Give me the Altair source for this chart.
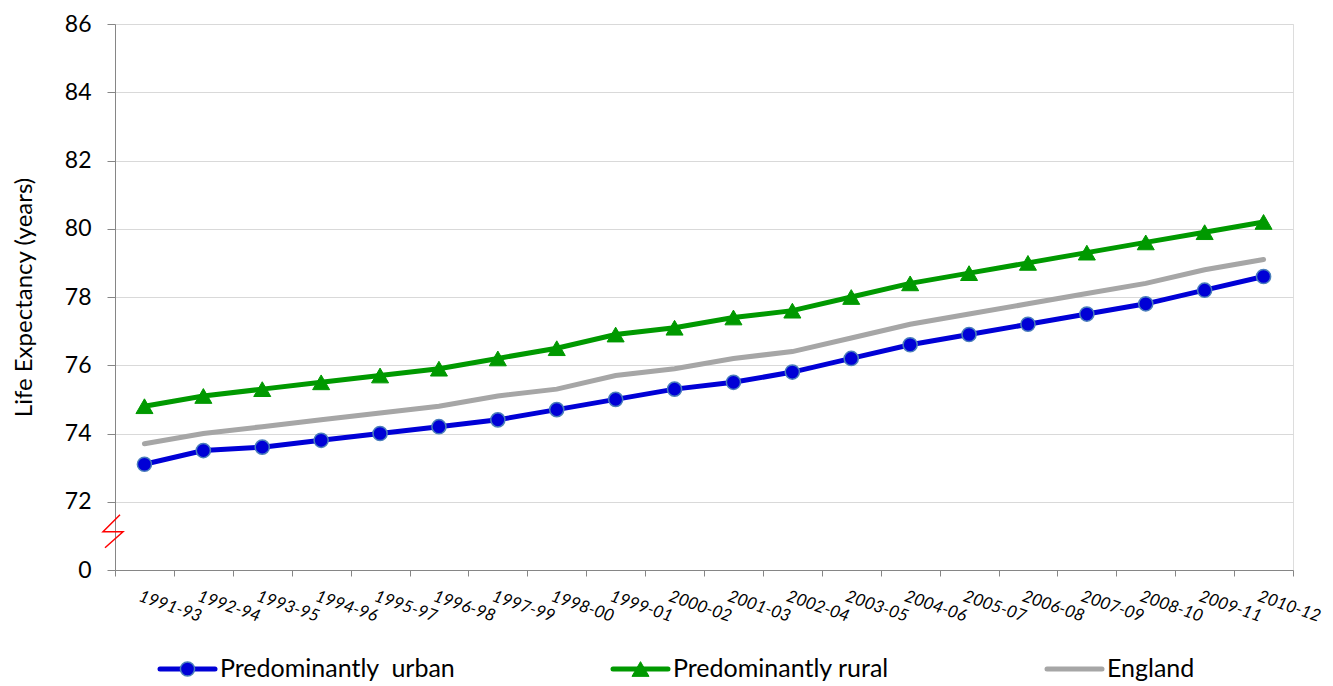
import altair as alt
import pandas as pd

periods = ["1991-93", "1992-94", "1993-95", "1994-96", "1995-97", "1996-98", "1997-99",
           "1998-00", "1999-01", "2000-02", "2001-03", "2002-04", "2003-05", "2004-06",
           "2005-07", "2006-08", "2007-09", "2008-10", "2009-11", "2010-12"]

urban = [73.1, 73.5, 73.6, 73.8, 74.0, 74.2, 74.4, 74.7, 75.0, 75.3,
         75.5, 75.8, 76.2, 76.6, 76.9, 77.2, 77.5, 77.8, 78.2, 78.6]
rural = [74.8, 75.1, 75.3, 75.5, 75.7, 75.9, 76.2, 76.5, 76.9, 77.1,
         77.4, 77.6, 78.0, 78.4, 78.7, 79.0, 79.3, 79.6, 79.9, 80.2]
england = [73.7, 74.0, 74.2, 74.4, 74.6, 74.8, 75.1, 75.3, 75.7, 75.9,
           76.2, 76.4, 76.8, 77.2, 77.5, 77.8, 78.1, 78.4, 78.8, 79.1]

S_URBAN = "Predominantly\u00a0 urban"
S_RURAL = "Predominantly rural"
S_ENG = "England"
series_names = [S_URBAN, S_RURAL, S_ENG]
series_colors = ["#0000D6", "#009900", "#A6A6A6"]
series_markers = ["circle", "triangle-up", None]

y_ticks = [70, 72, 74, 76, 78, 80, 82, 84, 86]

rows = []
for name, vals in zip(series_names, [urban, rural, england]):
    for p, v in zip(periods, vals):
        rows.append({"period": p, "series": name, "value": v})
df = pd.DataFrame(rows)

FONT = "Lato"

x_enc = alt.X("period:N", sort=periods,
              scale=alt.Scale(type="band", paddingInner=0, paddingOuter=0),
              axis=alt.Axis(title=None, labelAngle=19, labelAlign="left", labelBaseline="top",
                            labelFont=FONT, labelFontSize=17, labelFontStyle="italic",
                            labelColor="#000000", labelPadding=12, labelOffset=-3,
                            tickBand="extent",
                            tickSize=6, tickColor="#868686", domainColor="#868686",
                            grid=False, labelOverlap=False))
y_enc = alt.Y("value:Q", scale=alt.Scale(domain=[70, 86], nice=False, zero=False),
              axis=alt.Axis(title="Life Expectancy (years)", values=y_ticks,
                            labelExpr="datum.value == 70 ? '0' : datum.label",
                            labelFont=FONT, labelFontSize=23, labelColor="#000000",
                            labelPadding=16, tickSize=8, tickColor="#868686",
                            domainColor="#868686", gridColor="#D9D9D9",
                            titleFont=FONT, titleFontSize=24, titleFontWeight="normal",
                            titleColor="#000000", titlePadding=28))

lines = alt.Chart(df).mark_line(strokeCap="round").encode(
    x=x_enc, y=y_enc,
    stroke=alt.Stroke("series:N", scale=alt.Scale(domain=series_names, range=series_colors),
                      legend=None),
    detail="series:N",
    strokeWidth=alt.value(5),
)

urban_pts = alt.Chart(df).transform_filter(
    alt.FieldEqualPredicate(field="series", equal=S_URBAN)
).mark_point(filled=True, opacity=1, shape="circle", size=200, fill="#0000D6",
             stroke="#4A7EBB", strokeWidth=1.5).encode(
    x=alt.X("period:N", sort=periods), y="value:Q")

rural_pts = alt.Chart(df).transform_filter(
    alt.FieldEqualPredicate(field="series", equal=S_RURAL)
).mark_point(filled=True, opacity=1, shape="triangle-up", size=290, fill="#009900",
             stroke="#009900", strokeWidth=1).encode(
    x=alt.X("period:N", sort=periods), y="value:Q")

brk = alt.Chart(pd.DataFrame({"v": [71.15]})).mark_point(
    shape="M0.7,-1.6L-1,0.1L1,0.1L-0.8,1.7", filled=False, stroke="#FF0000",
    strokeWidth=1.5, size=400, opacity=1
).encode(x=alt.value(-2), y=alt.Y("v:Q"))

# ---- legend (drawn as guide marks below the plot) ----
LEG_Y = 645                     # centre line of legend row, relative to plot top
LEG_STARTS = [45, 498, 932]     # left end of each legend line sample
LEG_LEN = 55
legend_layers = []
for name, col, mk, x0 in zip(series_names, series_colors, series_markers, LEG_STARTS):
    ldf = pd.DataFrame({"label": [name]})
    base = alt.Chart(ldf)
    legend_layers.append(base.mark_rule(stroke=col, strokeWidth=5, strokeCap="round").encode(
        x=alt.value(x0), x2=alt.value(x0 + LEG_LEN), y=alt.value(LEG_Y)))
    if mk == "circle":
        legend_layers.append(base.mark_point(filled=True, opacity=1, shape="circle", size=200,
                                             fill=col, stroke="#4A7EBB", strokeWidth=1.5).encode(
            x=alt.value(x0 + LEG_LEN / 2), y=alt.value(LEG_Y)))
    elif mk == "triangle-up":
        legend_layers.append(base.mark_point(filled=True, opacity=1, shape="triangle-up", size=290,
                                             fill=col, stroke=col, strokeWidth=1).encode(
            x=alt.value(x0 + LEG_LEN / 2), y=alt.value(LEG_Y)))
    legend_layers.append(base.mark_text(align="left", baseline="middle", font=FONT, fontSize=25,
                                        color="#000000").encode(
        x=alt.value(x0 + LEG_LEN + 5), y=alt.value(LEG_Y), text="label:N"))

chart = alt.layer(lines, urban_pts, rural_pts, brk, *legend_layers).properties(
    width=1178, height=546,
    autosize=alt.AutoSizeParams(type="none"),
    padding={"left": 107, "top": 16, "right": 32, "bottom": 116},
).configure_view(stroke=None).configure(background="white")

chart.save("out.html", embed_options={"renderer": "svg", "actions": False})
